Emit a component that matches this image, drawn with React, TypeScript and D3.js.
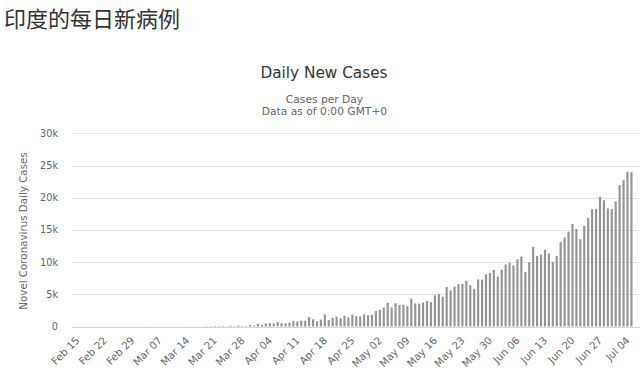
import React from "react";
import * as d3 from "d3";

const pageTitle = "印度的每日新病例";
const chartTitle = "Daily New Cases";
const subtitleLines = ["Cases per Day", "Data as of 0:00 GMT+0"];
const yAxisTitle = "Novel Coronavirus Daily Cases";

const startDate = Date.UTC(2020, 1, 15);
const endDateExclusive = Date.UTC(2020, 6, 6);

const febValues = [0, 0, 0, 0, 0, 0, 0, 0, 0, 0, 0, 0, 0, 0, 0];
const marValues = [0, 2, 1, 22, 2, 1, 3, 5, 4, 13, 6, 11, 9, 20, 11, 6, 23, 14, 38, 50, 86, 66, 103, 37, 121, 70, 160, 100, 78, 227, 146];
const aprValues = [437, 235, 478, 525, 505, 704, 508, 485, 591, 896, 768, 918, 905, 1463, 1118, 826, 1076, 1893, 1007, 1329, 1540, 1290, 1667, 1408, 1835, 1607, 1561, 1873, 1738, 1801];
const mayValues = [2396, 2564, 2952, 3656, 2971, 3602, 3344, 3339, 3175, 4311, 3592, 3562, 3726, 3943, 3787, 4864, 5050, 4630, 6147, 5611, 6198, 6568, 6629, 7111, 6414, 5843, 7293, 7300, 8105, 8336, 8782];
const junValues = [7761, 8821, 9633, 9889, 9471, 10438, 10864, 8442, 9987, 12375, 10956, 11156, 11929, 11374, 10049, 10974, 13103, 13827, 14721, 15915, 15158, 13540, 15656, 16868, 18205, 18255, 20131, 19610, 18339, 18256];
const julValues = [19429, 21947, 22718, 24018, 23942];

const yTicks = [0, 5000, 10000, 15000, 20000, 25000, 30000];

const W = 640;
const H = 370;
const FONT = "'DejaVu Sans', 'Lucida Grande', sans-serif";

export default function App() {
  const dates = d3.utcDay.range(new Date(startDate), new Date(endDateExclusive));
  const values = [...febValues, ...marValues, ...aprValues, ...mayValues, ...junValues, ...julValues];
  const data = dates.map((d, i) => ({ date: d, key: d.toISOString(), value: values[i] ?? 0 }));

  const x = d3
    .scaleBand<string>()
    .domain(data.map((d) => d.key))
    .range([75.3, 633.3])
    .paddingInner(0.45)
    .paddingOuter(0.2);
  const y = d3.scaleLinear().domain([0, 30000]).range([326.5, 133.3]);

  const fmt = d3.utcFormat("%b %d");
  const kFmt = (v: number) => (v === 0 ? "0" : `${v / 1000}k`);
  const tickData = data.filter((_, i) => i % 7 === 0);

  return (
    <svg
      width={W}
      height={H}
      style={{ position: "absolute", left: 0, top: 0, background: "#fff" }}
      fontFamily={FONT}
    >
      <rect x={0} y={0} width={W} height={H} fill="#fff" />
      <text
        x={4}
        y={27}
        fontSize={22}
        fill="#333"
        fontFamily="'Noto Sans CJK SC', sans-serif"
      >
        {pageTitle}
      </text>
      <text x={324} y={78} textAnchor="middle" fontSize={15.3} fill="#333">
        {chartTitle}
      </text>
      {subtitleLines.map((s, i) => (
        <text key={s} x={324.5} y={103.3 + i * 12} textAnchor="middle" fontSize={10.7} fill="#666">
          {s}
        </text>
      ))}
      {yTicks.map((t) => (
        <g key={t}>
          <line
            x1={72}
            x2={640}
            y1={Math.round(y(t)) + 0.5}
            y2={Math.round(y(t)) + 0.5}
            stroke={t === 0 ? "#ccd6eb" : "#e6e6e6"}
            strokeWidth={1}
          />
          <text x={58} y={y(t) + 3.5} textAnchor="end" fontSize={9.7} fill="#666">
            {kFmt(t)}
          </text>
        </g>
      ))}
      <text
        transform={`translate(27,231) rotate(-90)`}
        textAnchor="middle"
        fontSize={10.3}
        fill="#666"
      >
        {yAxisTitle}
      </text>
      {data.map((d) => (
        <rect
          key={d.key}
          x={x(d.key)}
          y={y(d.value)}
          width={x.bandwidth()}
          height={Math.max(0, y(0) - y(d.value))}
          fill="#949494"
        />
      ))}
      {tickData.map((d) => {
        const cx = (x(d.key) ?? 0) + x.bandwidth() / 2;
        return (
          <text
            key={d.key}
            transform={`translate(${cx + 3},${341}) rotate(-45)`}
            textAnchor="end"
            fontSize={10.3}
            fill="#666"
          >
            {fmt(d.date)}
          </text>
        );
      })}
    </svg>
  );
}
